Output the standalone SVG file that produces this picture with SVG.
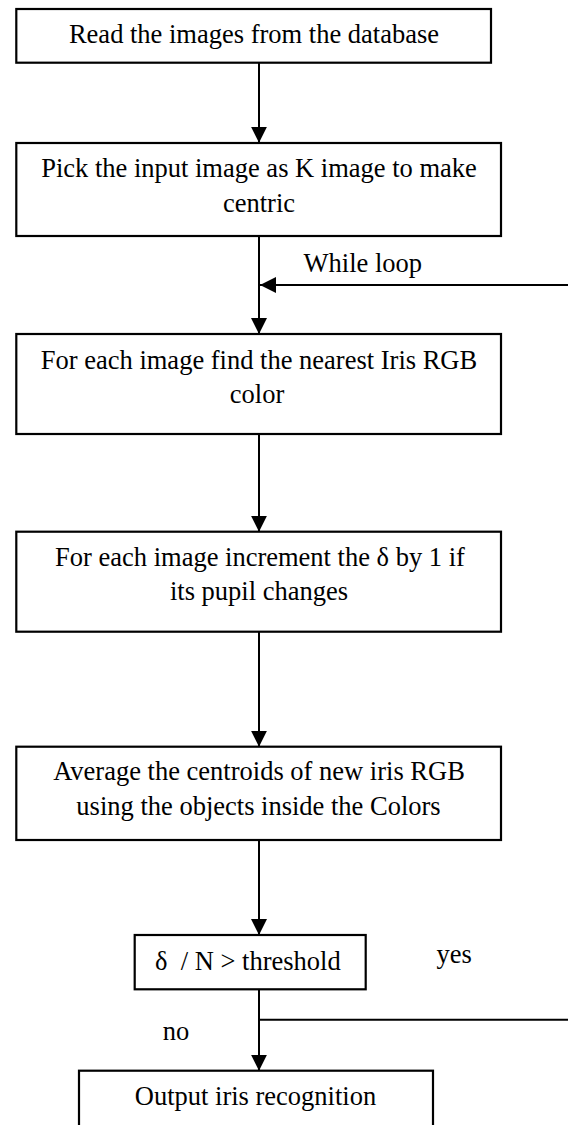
<svg xmlns="http://www.w3.org/2000/svg" width="568" height="1125" viewBox="0 0 568 1125">
<style>
.box{fill:#fff;stroke:#000;stroke-width:2.2}
.t{font-family:"Liberation Serif","Times New Roman",serif;font-size:26.5px;fill:#000;text-anchor:middle}
.l{font-family:"Liberation Serif","Times New Roman",serif;font-size:26.5px;fill:#000}
.c{fill:none;stroke:#000;stroke-width:2}
</style>
<defs>
<marker id="ah" markerUnits="userSpaceOnUse" markerWidth="16" markerHeight="16" refX="16" refY="8" orient="auto" viewBox="0 0 16 16">
<path d="M0,0 L16,8 L0,16 z" fill="#000"/>
</marker>
</defs>
<rect width="568" height="1125" fill="#fff"/>
<g id="connectors">
<line class="c" x1="259" y1="62.7" x2="259" y2="142.7" marker-end="url(#ah)"/>
<line class="c" x1="259" y1="236" x2="259" y2="334" marker-end="url(#ah)"/>
<line class="c" x1="568" y1="285" x2="260" y2="285" marker-end="url(#ah)"/>
<line class="c" x1="259" y1="434" x2="259" y2="531.7" marker-end="url(#ah)"/>
<line class="c" x1="259" y1="631.7" x2="259" y2="746.7" marker-end="url(#ah)"/>
<line class="c" x1="259" y1="840" x2="259" y2="935" marker-end="url(#ah)"/>
<line class="c" x1="259" y1="989.3" x2="259" y2="1070.7" marker-end="url(#ah)"/>
<line class="c" x1="259" y1="1019.7" x2="568" y2="1019.7"/>
<text class="l" x="303.6" y="272">While loop</text>
<text class="l" x="436.6" y="963">yes</text>
<text class="l" x="162.7" y="1040">no</text>
</g>
<g id="n1">
<rect class="box" x="16.3" y="9" width="474.7" height="53.7"/>
<text class="t" x="254" y="43.3">Read the images from the database</text>
</g>
<g id="n2">
<rect class="box" x="16.3" y="143" width="484.7" height="93"/>
<text class="t" x="259" y="177">Pick the input image as K image to make</text>
<text class="t" x="259" y="212">centric</text>
</g>
<g id="n3">
<rect class="box" x="16.3" y="334" width="484.7" height="100"/>
<text class="t" x="259" y="369.3">For each image find the nearest Iris RGB</text>
<text class="t" x="257" y="403">color</text>
</g>
<g id="n4">
<rect class="box" x="16.3" y="531.7" width="484.7" height="100"/>
<text class="t" x="260" y="565.7">For each image increment the δ by 1 if</text>
<text class="t" x="259" y="600">its pupil changes</text>
</g>
<g id="n5">
<rect class="box" x="16.3" y="746.7" width="484.7" height="93.3"/>
<text class="t" x="259" y="780">Average the centroids of new iris RGB</text>
<text class="t" x="258.5" y="815">using the objects inside the Colors</text>
</g>
<g id="n6">
<rect class="box" x="134.7" y="935" width="231" height="54.3"/>
<text class="l" x="155" y="970" xml:space="preserve">δ  / N &gt; threshold</text>
</g>
<g id="n7">
<rect class="box" x="79" y="1070.7" width="354" height="70"/>
<text class="t" x="255.5" y="1105">Output iris recognition</text>
</g>
</svg>
